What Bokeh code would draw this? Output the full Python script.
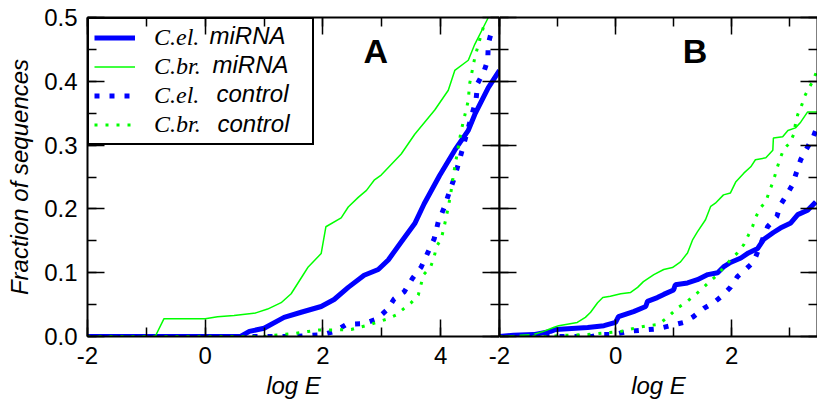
from bokeh.plotting import figure
from bokeh.layouts import row
from bokeh.models import (LinearAxis, SingleIntervalTicker, Legend, LegendItem, Label,
                          Range1d, NumeralTickFormatter, CustomJSTickFormatter)
from bokeh.embed import file_html
from bokeh.resources import INLINE

# ---------------- data ----------------
series_names = ["C.el.", "C.br.", "C.el.", "C.br."]
series_kinds = ["miRNA", "miRNA", "control", "control"]
x_label = "log E"
y_label = "Fraction of sequences"
panel_names = ["A", "B"]

# Panel A
a_cel_mirna_x = [-2, 0.6, 0.75, 1.0, 1.34, 1.63, 1.97, 2.19, 2.43, 2.7, 2.94, 3.11, 3.33, 3.56,
                 3.72, 3.98, 4.24, 4.47, 4.58, 4.81, 5.0]
a_cel_mirna_y = [0, 0, 0.008, 0.013, 0.03, 0.038, 0.047, 0.058, 0.077, 0.096, 0.105, 0.12, 0.148,
                 0.177, 0.208, 0.252, 0.292, 0.323, 0.348, 0.39, 0.417]

a_cbr_mirna_x = [-2, -0.85, -0.7, 0.0, 0.21, 0.49, 0.86, 1.06, 1.29, 1.46, 1.66, 1.75, 1.97, 2.05,
                 2.31, 2.43, 2.6, 2.74, 2.87, 2.99, 3.33, 3.56, 3.9, 4.13, 4.24, 4.47, 4.58, 4.75,
                 4.81]
a_cbr_mirna_y = [0, 0, 0.028, 0.028, 0.031, 0.033, 0.037, 0.043, 0.053, 0.067, 0.096, 0.109, 0.13,
                 0.172, 0.186, 0.203, 0.218, 0.229, 0.245, 0.253, 0.286, 0.317, 0.355, 0.386,
                 0.417, 0.433, 0.458, 0.489, 0.5]

a_cel_ctrl_x = [-2, 1.5, 2.0, 2.2, 2.4, 2.69, 2.91, 3.09, 3.21, 3.38, 3.52, 3.67, 3.78, 3.89, 3.96,
                4.06, 4.15, 4.23, 4.3, 4.52, 4.6, 4.63, 4.73, 4.8, 4.81, 4.87]
a_cel_ctrl_y = [0, 0, 0.003, 0.008, 0.019, 0.02, 0.027, 0.042, 0.059, 0.07, 0.091, 0.109, 0.131,
                0.153, 0.18, 0.202, 0.227, 0.248, 0.27, 0.344, 0.37, 0.397, 0.414, 0.433, 0.459,
                0.48]

a_cbr_ctrl_x = [-2, 1.0, 1.17, 1.54, 1.75, 1.92, 2.09, 2.48, 2.77, 2.94, 3.11, 3.25, 3.38, 3.5,
                3.62, 3.71, 3.83, 3.89, 3.93, 4.01, 4.06, 4.13, 4.17, 4.22, 4.3, 4.35, 4.47, 4.49,
                4.58, 4.66, 4.75]
a_cbr_ctrl_y = [0, 0, 0.002, 0.005, 0.008, 0.01, 0.01, 0.011, 0.018, 0.023, 0.028, 0.034, 0.044,
                0.053, 0.065, 0.097, 0.109, 0.125, 0.141, 0.153, 0.172, 0.203, 0.223, 0.255,
                0.297, 0.323, 0.37, 0.395, 0.437, 0.464, 0.492]

# Panel B
b_cel_mirna_x = [-2, -1.76, -1.41, -1.12, -1.03, -0.48, -0.2, 0.0, 0.05, 0.31, 0.52, 0.55, 0.72,
                 0.83, 1.0, 1.03, 1.24, 1.41, 1.59, 1.76, 1.86, 1.98, 2.16, 2.29, 2.45, 2.55,
                 2.72, 2.84, 3.02, 3.14, 3.31, 3.45]
b_cel_mirna_y = [0, 0.002, 0.003, 0.008, 0.011, 0.014, 0.017, 0.022, 0.031, 0.039, 0.047, 0.055,
                 0.061, 0.066, 0.073, 0.081, 0.084, 0.089, 0.097, 0.1, 0.109, 0.116, 0.123, 0.131,
                 0.138, 0.152, 0.163, 0.17, 0.178, 0.191, 0.198, 0.211]

b_cbr_mirna_x = [-2, -1.41, -1.24, -1.07, -0.98, -0.66, -0.52, -0.43, -0.31, -0.22, -0.09, 0.09,
                 0.26, 0.38, 0.48, 0.66, 0.83, 0.98, 1.12, 1.24, 1.33, 1.41, 1.55, 1.64, 1.72,
                 1.86, 1.98, 2.07, 2.21, 2.33, 2.41, 2.59, 2.71, 2.72, 2.88, 2.97, 3.1, 3.19,
                 3.31, 3.48]
b_cbr_mirna_y = [0, 0.003, 0.008, 0.014, 0.017, 0.022, 0.03, 0.038, 0.053, 0.061, 0.063, 0.067,
                 0.069, 0.077, 0.086, 0.097, 0.105, 0.108, 0.117, 0.131, 0.152, 0.164, 0.183,
                 0.204, 0.209, 0.222, 0.225, 0.242, 0.256, 0.266, 0.277, 0.28, 0.292, 0.311,
                 0.313, 0.323, 0.327, 0.336, 0.352, 0.352]

b_cel_ctrl_x = [-2, -0.4, -0.29, -0.03, 0.21, 0.47, 0.72, 0.95, 1.17, 1.34, 1.52, 1.69, 1.84,
                1.98, 2.1, 2.24, 2.38, 2.62, 2.78, 2.84, 2.95, 3.05, 3.12, 3.19, 3.29, 3.4, 3.47]
b_cel_ctrl_y = [0, 0, 0.003, 0.003, 0.008, 0.01, 0.012, 0.017, 0.022, 0.031, 0.044, 0.053, 0.064,
                0.077, 0.094, 0.105, 0.117, 0.172, 0.188, 0.206, 0.222, 0.238, 0.258, 0.277,
                0.294, 0.311, 0.328]

b_cbr_ctrl_x = [-2, -1.2, -0.86, -0.48, -0.12, 0.09, 0.38, 0.57, 0.74, 0.91, 1.07, 1.21, 1.34,
                1.47, 1.62, 1.76, 1.86, 1.98, 2.1, 2.21, 2.29, 2.36, 2.41, 2.5, 2.59, 2.64, 2.72,
                2.79, 2.84, 2.9, 3.0, 3.07, 3.1, 3.14, 3.21, 3.26, 3.33, 3.41, 3.47]
b_cbr_ctrl_y = [0, 0, 0.002, 0.003, 0.006, 0.008, 0.014, 0.017, 0.019, 0.031, 0.045, 0.053,
                0.063, 0.073, 0.086, 0.097, 0.108, 0.12, 0.131, 0.144, 0.159, 0.172, 0.186,
                0.202, 0.211, 0.225, 0.244, 0.266, 0.28, 0.294, 0.303, 0.317, 0.333, 0.348,
                0.363, 0.377, 0.389, 0.402, 0.417]

# ---------------- style / layout ----------------
SANS = "Liberation Sans"
SERIF = "Liberation Serif"
BLUE = "#0000ff"
GREEN = "#00ff00"
FS = "24px"

H = 401
TOP = 17
BOTTOM = 64
LEFT_A = 87
FRAME_A_W = 412
OVER = 14
FRAME_B_W = 318

styles = [
    dict(line_color=BLUE, line_width=5),
    dict(line_color=GREEN, line_width=1.5),
    dict(line_color=BLUE, line_width=5, line_dash="5 10"),
    dict(line_color=GREEN, line_width=3, line_dash="3 8"),
]


def style_axis(ax, show_labels):
    ax.axis_line_width = 2
    ax.axis_line_color = "black"
    ax.major_tick_in = 17
    ax.major_tick_out = 0
    ax.minor_tick_in = 9
    ax.minor_tick_out = 0
    ax.major_tick_line_width = 1.5
    ax.minor_tick_line_width = 1.5
    ax.major_tick_line_color = "black"
    ax.minor_tick_line_color = "black"
    if show_labels:
        ax.major_label_text_font = SANS
        ax.major_label_text_font_size = FS
        ax.major_label_text_color = "black"
    else:
        ax.formatter = CustomJSTickFormatter(code="return ''")
        ax.major_label_text_font_size = "0px"
        ax.major_label_standoff = 0


def xticker():
    return SingleIntervalTicker(interval=2, num_minor_ticks=2)


def yticker():
    return SingleIntervalTicker(interval=0.1, num_minor_ticks=2)


def make_panel(width, xr, left_border, show_y_labels, data):
    p = figure(width=width, height=H, x_range=xr, y_range=Range1d(0, 0.5),
               output_backend="svg", toolbar_location=None,
               min_border_left=left_border, min_border_right=0,
               min_border_top=TOP, min_border_bottom=BOTTOM,
               outline_line_color=None)
    p.xgrid.visible = False
    p.ygrid.visible = False
    xa = p.xaxis[0]
    xa.ticker = xticker()
    xa.formatter = NumeralTickFormatter(format="0")
    style_axis(xa, True)
    xa.major_label_standoff = 10
    xa.major_label_text_line_height = 1.0
    xa.axis_label = x_label
    xa.axis_label_text_font = SANS
    xa.axis_label_text_font_style = "italic"
    xa.axis_label_text_font_size = FS
    xa.axis_label_text_color = "black"
    xa.axis_label_text_line_height = 1.0
    xa.axis_label_standoff = 5
    ya = p.yaxis[0]
    ya.ticker = yticker()
    if show_y_labels:
        ya.formatter = NumeralTickFormatter(format="0.0")
        style_axis(ya, True)
        ya.major_label_standoff = 10
        ya.axis_label = y_label
        ya.axis_label_text_font = SANS
        ya.axis_label_text_font_style = "italic"
        ya.axis_label_text_font_size = FS
        ya.axis_label_text_color = "black"
        ya.axis_label_standoff = 8
    else:
        style_axis(ya, False)
    top = LinearAxis(ticker=xticker())
    style_axis(top, False)
    p.add_layout(top, "above")
    right = LinearAxis(ticker=yticker())
    style_axis(right, False)
    p.add_layout(right, "right")

    rends = []
    for (xs, ys), st in zip(data, styles):
        rends.append(p.line(xs, ys, **st))
    return p, rends


pa, rends_a = make_panel(LEFT_A + FRAME_A_W, Range1d(-2, 5), LEFT_A, True,
                         [(a_cel_mirna_x, a_cel_mirna_y), (a_cbr_mirna_x, a_cbr_mirna_y),
                          (a_cel_ctrl_x, a_cel_ctrl_y), (a_cbr_ctrl_x, a_cbr_ctrl_y)])
pb, rends_b = make_panel(OVER + FRAME_B_W, Range1d(-2, 3.48), OVER, False,
                         [(b_cel_mirna_x, b_cel_mirna_y), (b_cbr_mirna_x, b_cbr_mirna_y),
                          (b_cel_ctrl_x, b_cel_ctrl_y), (b_cbr_ctrl_x, b_cbr_ctrl_y)])

pb.border_fill_alpha = 0
pb.margin = (0, 0, 0, -OVER)

# panel letters
for p, name, lx in ((pa, panel_names[0], 2.9), (pb, panel_names[1], 1.37)):
    p.add_layout(Label(x=lx, y=0.447, text=name, text_font=SANS, text_font_style="bold",
                       text_font_size="34px", text_align="center", text_baseline="alphabetic",
                       text_color="black"))

# legend
PAD = 5
GW = 41
STAND = 19
ROW_H = 25
SPACING = 2
ROW_EFF = 27.3
legend = Legend(
    items=[LegendItem(label=n, renderers=[r]) for n, r in zip(series_names, rends_a)],
    location="top_left", margin=0, padding=PAD, spacing=SPACING,
    glyph_width=GW, glyph_height=ROW_H, label_height=ROW_H, label_width=153,
    label_standoff=STAND,
    label_text_font=SERIF, label_text_font_style="italic", label_text_font_size="24px",
    label_text_color="black",
    border_line_color="black", border_line_width=2, border_line_alpha=1.0,
    background_fill_color="white", background_fill_alpha=0.0,
)
pa.add_layout(legend)

frame_h = H - TOP - BOTTOM
kind_dx = [122, 125, 129, 130]
for i, kind in enumerate(series_kinds):
    cy = PAD + ROW_EFF / 2 + i * (ROW_EFF + SPACING)
    pa.add_layout(Label(x=kind_dx[i], y=frame_h - cy, x_units="screen", y_units="screen",
                        text=kind, text_font=SANS, text_font_style="italic",
                        text_font_size=FS, text_baseline="middle", text_color="black",
                        level="overlay"))

layout = row(pa, pb, spacing=0)
open("out.html", "w").write(file_html(layout, INLINE))
